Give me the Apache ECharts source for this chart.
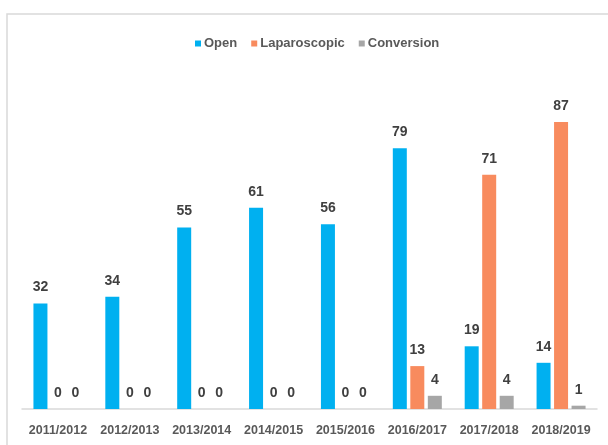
<!DOCTYPE html>
<html><head><meta charset="utf-8">
<script src="https://cdn.jsdelivr.net/npm/echarts@6/dist/echarts.min.js"></script>
<style>html,body{margin:0;padding:0;background:#fff}#c{width:608px;height:445px}</style>
</head><body><div id="c"></div>
<script>
const categories = ['2011/2012','2012/2013','2013/2014','2014/2015','2015/2016','2016/2017','2017/2018','2018/2019'];
const openVals = [32,34,55,61,56,79,19,14];
const lapVals = [0,0,0,0,0,13,71,87];
const convVals = [0,0,0,0,0,4,4,1];
const seriesNames = ['Open','Laparoscopic','Conversion'];
const colors = ['#00B0F0','#F88B5E','#A6A6A6'];
const FONT = '"Liberation Sans", Arial, sans-serif';
const chart = echarts.init(document.getElementById('c'));
const label = {show:true, position:'top', distance:9, color:'#404040', fontSize:14, fontWeight:'bold', fontFamily:FONT};
const mk = (name, data, color) => ({name, type:'bar', data, barWidth:14, barGap:'25%', itemStyle:{color}, label});
chart.setOption({
  animation:false,
  graphic:[{type:'rect', shape:{x:7,y:14,width:700,height:500}, style:{fill:'none', stroke:'#d9d9d9', lineWidth:1.5}, silent:true}],
  legend:{top:32, left:190, itemWidth:6, itemHeight:6, itemGap:14, icon:'rect',
    textStyle:{color:'#595959', fontSize:13, fontWeight:'bold', fontFamily:FONT, padding:[0,0,0,-2]}},
  grid:{left:22, right:11, top:79, bottom:36, containLabel:false},
  xAxis:{type:'category', data:categories, axisTick:{show:false},
    axisLine:{lineStyle:{color:'#d9d9d9', width:1.5}},
    axisLabel:{interval:0, color:'#595959', fontSize:12.5, fontWeight:'bold', fontFamily:FONT, margin:15}},
  yAxis:{type:'value', min:0, max:100, show:false, splitLine:{show:false}},
  series:[mk(seriesNames[0], openVals, colors[0]), mk(seriesNames[1], lapVals, colors[1]), mk(seriesNames[2], convVals, colors[2])]
});
</script></body></html>
